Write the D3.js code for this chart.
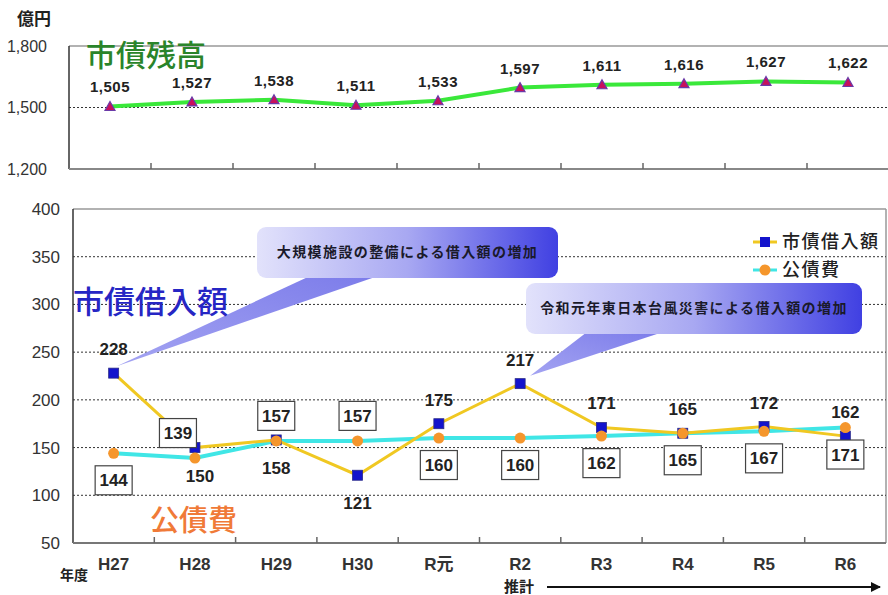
<!DOCTYPE html>
<html><head><meta charset="utf-8">
<script src="https://cdn.jsdelivr.net/npm/d3@7"></script>
<style>
html,body{margin:0;padding:0;background:#fff;}
svg{display:block;}
</style></head>
<body>
<script>
// ---- data ----
const years = ["H27","H28","H29","H30","R元","R2","R3","R4","R5","R6"];
const balance = [1505,1527,1538,1511,1533,1597,1611,1616,1627,1622];      // 市債残高
const borrowing = [228,150,158,121,175,217,171,165,172,162];              // 市債借入額
const debtService = [144,139,157,157,160,160,162,165,167,171];            // 公債費
const topTicks = [1200,1500,1800];
const bottomTicks = [50,100,150,200,250,300,350,400];
const borrowLabelSide = ["up","down","down","down","up","up","up","up","up","up"];
const debtLabelSide = ["down","up","up","up","down","down","down","down","down","down"];
const notes = ["大規模施設の整備による借入額の増加","令和元年東日本台風災害による借入額の増加"];

const W = 888, H = 595;
const NUM = "'Liberation Sans', Arial, 'Noto Sans CJK JP', sans-serif";
const JP = "'Noto Sans CJK JP', sans-serif";

const svg = d3.select("body").append("svg").attr("width", W).attr("height", H);
const defs = svg.append("defs");
const g1 = defs.append("linearGradient").attr("id","cg").attr("x1","0").attr("x2","1").attr("y1","0").attr("y2","0");
g1.append("stop").attr("offset","0").attr("stop-color","#e2e2fb");
g1.append("stop").attr("offset","0.5").attr("stop-color","#a8a8f2");
g1.append("stop").attr("offset","1").attr("stop-color","#4040e2");
const g2 = defs.append("linearGradient").attr("id","tg").attr("x1","0").attr("x2","1").attr("y1","1").attr("y2","0");
g2.append("stop").attr("offset","0").attr("stop-color","#a4a4f2");
g2.append("stop").attr("offset","1").attr("stop-color","#7c7cea");
defs.append("marker").attr("id","arr").attr("viewBox","0 0 10 10").attr("refX",9).attr("refY",5)
  .attr("markerWidth",5).attr("markerHeight",5).attr("orient","auto")
  .append("path").attr("d","M0,0L10,5L0,10z").attr("fill","#111");

// ================= TOP CHART =================
const tL = 69, tR = 889, tT = 46, tB = 169;
const xT = d3.scaleBand().domain(years).range([tL, tR]);
const yT = d3.scaleLinear().domain([1200,1800]).range([tB, tT]);

svg.append("line").attr("x1",tL).attr("x2",tR).attr("y1",tT).attr("y2",tT).attr("stroke","#999").attr("stroke-width",1.5);
svg.append("line").attr("x1",tL).attr("x2",tR).attr("y1",yT(1500)).attr("y2",yT(1500))
  .attr("stroke","#333").attr("stroke-width",1).attr("stroke-dasharray","2,2");
svg.append("line").attr("x1",tL).attr("x2",tL).attr("y1",tT).attr("y2",tB).attr("stroke","#333").attr("stroke-width",1.5);
svg.append("line").attr("x1",tL).attr("x2",tR).attr("y1",tB).attr("y2",tB).attr("stroke","#888").attr("stroke-width",2);
svg.selectAll(".ttick").data(years.slice(1)).enter().append("line")
  .attr("x1",d=>xT(d)).attr("x2",d=>xT(d)).attr("y1",tB-6).attr("y2",tB).attr("stroke","#666").attr("stroke-width",1.5);

const axT = svg.append("g").attr("transform",`translate(${tL},0)`)
  .call(d3.axisLeft(yT).tickValues(topTicks).tickFormat(d3.format(",")).tickSize(0).tickPadding(22));
axT.select(".domain").remove();
axT.selectAll("text").attr("font-family",NUM).attr("font-size",16).attr("fill","#333");

svg.append("text").attr("x",17).attr("y",25).text("億円")
  .attr("font-family",JP).attr("font-weight","bold").attr("font-size",17).attr("fill","#222");
svg.append("text").attr("x",86).attr("y",66).text("市債残高")
  .attr("font-family",JP).attr("font-weight",500).attr("font-size",30).attr("fill","#2a842a");

const lineT = d3.line().x((d,i)=>xT(years[i])+xT.bandwidth()/2).y(d=>yT(d));
svg.append("path").attr("d",lineT(balance)).attr("fill","none").attr("stroke","#3ae83a").attr("stroke-width",4);
svg.selectAll(".tri").data(balance).enter().append("path")
  .attr("transform",(d,i)=>`translate(${xT(years[i])+xT.bandwidth()/2},${yT(d)})`)
  .attr("d","M0,-5L5,4L-5,4Z").attr("fill","#c8105c").attr("stroke","#6a3aa8").attr("stroke-width",1.2);
svg.selectAll(".tlab").data(balance).enter().append("text")
  .attr("x",(d,i)=>xT(years[i])+xT.bandwidth()/2).attr("y",d=>yT(d)-14)
  .attr("text-anchor","middle").text(d3.format(","))
  .attr("font-family",NUM).attr("font-weight","bold").attr("font-size",15).attr("letter-spacing",0.5).attr("fill","#222");

// ================= BOTTOM CHART =================
const bL = 73, bR = 886, bT = 209, bB = 543;
const xB = d3.scaleBand().domain(years).range([bL, bR]);
const yB = d3.scaleLinear().domain([50,400]).range([bB, bT]);
const cx = i => xB(years[i]) + xB.bandwidth()/2;

svg.append("line").attr("x1",bL).attr("x2",bR).attr("y1",bT).attr("y2",bT).attr("stroke","#999").attr("stroke-width",1.5);
svg.append("line").attr("x1",bR).attr("x2",bR).attr("y1",bT).attr("y2",bB).attr("stroke","#999").attr("stroke-width",1.5);
svg.selectAll(".bgrid").data(bottomTicks.filter(d=>d>50&&d<400)).enter().append("line")
  .attr("x1",bL).attr("x2",bR).attr("y1",d=>yB(d)).attr("y2",d=>yB(d))
  .attr("stroke","#333").attr("stroke-width",1).attr("stroke-dasharray","2,2");
svg.append("line").attr("x1",bL).attr("x2",bL).attr("y1",bT).attr("y2",bB).attr("stroke","#333").attr("stroke-width",1.5);
svg.append("line").attr("x1",bL).attr("x2",bR).attr("y1",bB).attr("y2",bB).attr("stroke","#777").attr("stroke-width",2);
svg.selectAll(".btick").data(years.slice(1)).enter().append("line")
  .attr("x1",d=>xB(d)).attr("x2",d=>xB(d)).attr("y1",bB-6).attr("y2",bB).attr("stroke","#666").attr("stroke-width",1.5);

const axB = svg.append("g").attr("transform",`translate(${bL},0)`)
  .call(d3.axisLeft(yB).tickValues(bottomTicks).tickSize(0).tickPadding(13));
axB.select(".domain").remove();
axB.selectAll("text").attr("font-family",NUM).attr("font-size",17).attr("fill","#333");

const axX = svg.append("g").attr("transform",`translate(0,${bB})`)
  .call(d3.axisBottom(xB).tickSize(0).tickPadding(15));
axX.select(".domain").remove();
axX.selectAll("text").attr("font-family",NUM).attr("font-weight","bold").attr("font-size",17).attr("fill","#333");

svg.append("text").attr("x",60).attr("y",580).text("年度")
  .attr("font-family",JP).attr("font-weight","bold").attr("font-size",14).attr("fill","#222");
svg.append("text").attr("x",504).attr("y",592).text("推計")
  .attr("font-family",JP).attr("font-weight","bold").attr("font-size",15).attr("fill","#222");
svg.append("line").attr("x1",547).attr("x2",880).attr("y1",587).attr("y2",587)
  .attr("stroke","#111").attr("stroke-width",2).attr("marker-end","url(#arr)");

// callouts
function callout(rx, ry, rw, rh, b1, b2, tipX, tipY, txt){
  const g = svg.append("g");
  g.append("path").attr("d",`M${b1},${ry+rh-2}L${tipX},${tipY}L${b2},${ry+rh-2}Z`).attr("fill","url(#tg)");
  g.append("rect").attr("x",rx).attr("y",ry).attr("width",rw).attr("height",rh).attr("rx",9)
    .attr("fill","url(#cg)");
  g.append("text").attr("x",rx+rw/2).attr("y",ry+rh/2).attr("dy","0.35em").attr("text-anchor","middle")
    .text(txt).attr("font-family",JP).attr("font-weight","bold").attr("font-size",14)
    .attr("letter-spacing",1.4).attr("fill","#1a1a2a");
}
callout(257, 227, 301, 51, 310, 378, cx(0)+3, yB(borrowing[0])-7, notes[0]);
callout(526, 283, 336, 51, 587, 663, cx(5)+10, yB(borrowing[5])-8, notes[1]);

// big labels
svg.append("text").attr("x",73).attr("y",313).text("市債借入額")
  .attr("font-family",JP).attr("font-weight",500).attr("font-size",31).attr("fill","#2626c4");
svg.append("text").attr("x",150).attr("y",531).text("公債費")
  .attr("font-family",JP).attr("font-weight",500).attr("font-size",29).attr("fill","#f07a38");

// lines
const lineB = d3.line().x((d,i)=>cx(i)).y(d=>yB(d));
svg.append("path").attr("d",lineB(debtService)).attr("fill","none").attr("stroke","#40e6e6").attr("stroke-width",4);
svg.append("path").attr("d",lineB(borrowing)).attr("fill","none").attr("stroke","#f0c822").attr("stroke-width",3);
svg.selectAll(".sq").data(borrowing).enter().append("rect")
  .attr("x",(d,i)=>cx(i)-5).attr("y",d=>yB(d)-5).attr("width",10).attr("height",10)
  .attr("fill","#1414cc").attr("stroke","#2a2a88").attr("stroke-width",0.8);
svg.selectAll(".dot").data(debtService).enter().append("circle")
  .attr("cx",(d,i)=>cx(i)).attr("cy",d=>yB(d)).attr("r",5.5).attr("fill","#f5962c");

svg.selectAll(".blab").data(borrowing).enter().append("text")
  .attr("x",(d,i)=>cx(i)+ (i===1?5:0)).attr("y",(d,i)=>yB(d)+(borrowLabelSide[i]==="up"?-24:28))
  .attr("dy","0.35em").attr("text-anchor","middle").text(d=>d)
  .attr("font-family",NUM).attr("font-weight","bold").attr("font-size",17).attr("fill","#222");

const dl = svg.selectAll(".dlab").data(debtService).enter().append("g")
  .attr("transform",(d,i)=>`translate(${cx(i)+(i===1?-17:0)},${yB(d)+(debtLabelSide[i]==="up"?-25:27)})`);
dl.append("rect").attr("x",-18.5).attr("y",-14.5).attr("width",37).attr("height",29)
  .attr("fill","#fff").attr("stroke","#444").attr("stroke-width",1.2);
dl.append("text").attr("dy","0.36em").attr("text-anchor","middle").text(d=>d)
  .attr("font-family",NUM).attr("font-weight","bold").attr("font-size",17).attr("fill","#222");

// legend
const lg = svg.append("g");
lg.append("line").attr("x1",753).attr("x2",777).attr("y1",242).attr("y2",242).attr("stroke","#f0c822").attr("stroke-width",3);
lg.append("rect").attr("x",760).attr("y",237).attr("width",10).attr("height",10).attr("fill","#1414cc");
lg.append("text").attr("x",782).attr("y",242).attr("dy","0.36em").text("市債借入額")
  .attr("font-family",JP).attr("font-weight",500).attr("font-size",18).attr("letter-spacing",1.5).attr("fill","#222");
lg.append("line").attr("x1",753).attr("x2",777).attr("y1",270).attr("y2",270).attr("stroke","#40e6e6").attr("stroke-width",3);
lg.append("circle").attr("cx",765).attr("cy",270).attr("r",5.5).attr("fill","#f5962c");
lg.append("text").attr("x",782).attr("y",270).attr("dy","0.36em").text("公債費")
  .attr("font-family",JP).attr("font-weight",500).attr("font-size",18).attr("letter-spacing",1.5).attr("fill","#222");
</script>
</body></html>
